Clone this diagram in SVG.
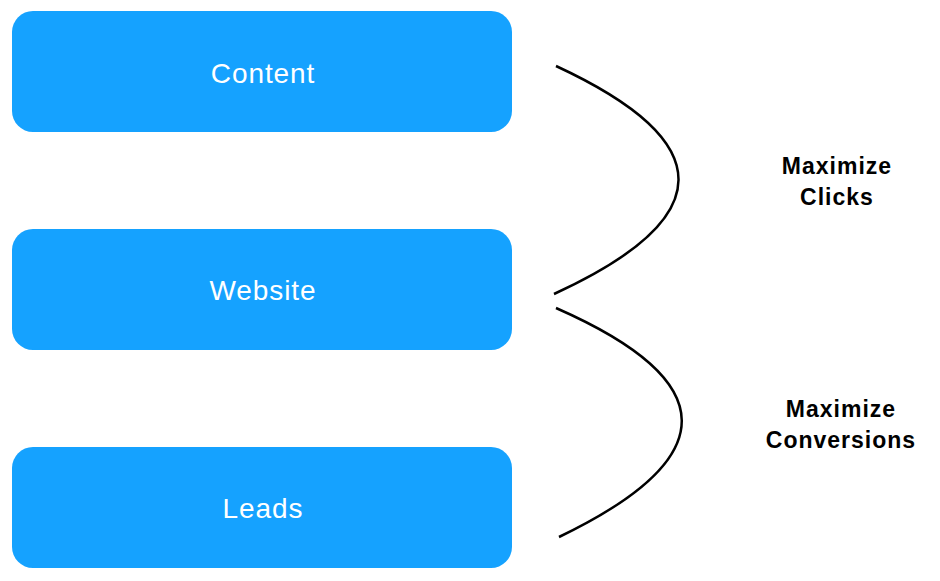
<svg xmlns="http://www.w3.org/2000/svg" width="940" height="581" viewBox="0 0 940 581">
<style>
.box{fill:#15a2ff}
.lbl{font-family:"Liberation Sans",Arial,sans-serif;font-size:28px;fill:#ffffff;text-anchor:middle;letter-spacing:0.9px}
.side{font-family:"Liberation Sans",Arial,sans-serif;font-size:23px;font-weight:bold;fill:#000000;text-anchor:middle;letter-spacing:1px}
.brace{fill:none;stroke:#000000;stroke-width:2.5;stroke-linecap:butt}
</style>
<rect width="940" height="581" fill="#ffffff"/>
<g id="content">
<rect class="box" x="12" y="11" width="500" height="121" rx="21" ry="21"/>
<text class="lbl" x="263" y="83">Content</text>
</g>
<g id="website">
<rect class="box" x="12" y="229" width="500" height="121" rx="21" ry="21"/>
<text class="lbl" x="263" y="300">Website</text>
</g>
<g id="leads">
<rect class="box" x="12" y="447" width="500" height="121" rx="21" ry="21"/>
<text class="lbl" x="263" y="518">Leads</text>
</g>
<g id="connectors">
<path class="brace" d="M556,66 Q802,180 554,294"/>
<path class="brace" d="M556,308 Q806,418 559,537"/>
</g>
<g id="maximize-clicks">
<text class="side" x="837" y="174">Maximize</text>
<text class="side" x="837" y="205">Clicks</text>
</g>
<g id="maximize-conversions">
<text class="side" x="841" y="417">Maximize</text>
<text class="side" x="841" y="448">Conversions</text>
</g>
</svg>
